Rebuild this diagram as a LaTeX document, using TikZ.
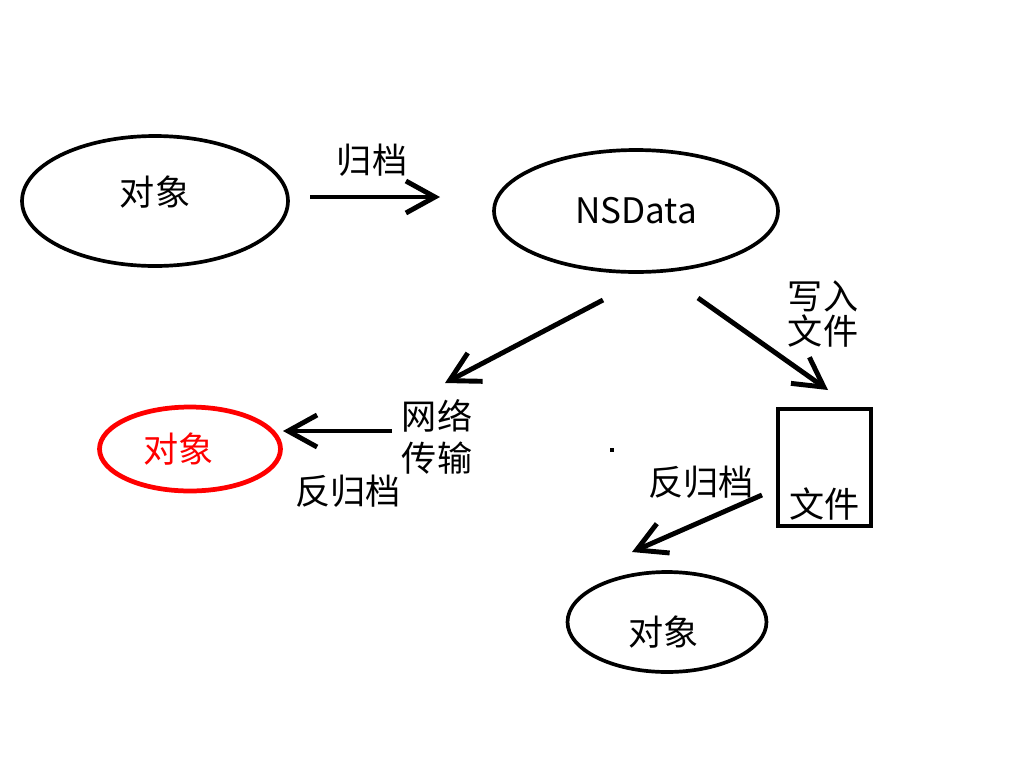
\documentclass[tikz,border=0pt]{standalone}
\usepackage{fontspec}
\setmainfont{Noto Sans CJK SC}
\usetikzlibrary{arrows.meta,positioning,calc,shapes.geometric}
\definecolor{ink}{HTML}{000000}
\definecolor{alert}{HTML}{FF0000}
\tikzset{blob/.style={ellipse,draw=ink,line width=2.1pt,inner sep=0pt,font=\fontsize{20}{22}\selectfont}, hot/.style={blob,draw=alert,text=alert,line width=2.7pt}, sheet/.style={draw=ink,line width=2.5pt,inner sep=0pt,minimum width=1.86cm,minimum height=2.34cm}, tag/.style={align=center,inner sep=0pt,font=\fontsize{20}{20}\selectfont}, flow/.style={-{Straight Barb[length=5.8mm,width=6.4mm]},line width=2.8pt,draw=ink}, inside/.style={font=\fontsize{20}{22}\selectfont}}

\begin{document}
\begin{tikzpicture}[x=0.02cm,y=-0.02cm]
\useasboundingbox[fill=white] (0,0) rectangle (1024,768);
\node[blob,minimum width=5.32cm,minimum height=2.6cm,label={[inside,yshift=5pt]center:对象}] (obj1) at (155,201) {};
\node[blob,minimum width=5.68cm,minimum height=2.44cm] (nsdata) at (636,211) {NSData};
\node[hot,minimum width=3.62cm,minimum height=1.68cm,label={[inside,text=alert,xshift=-6.5pt]center:对象}] (obj2) at (190,449) {};
\node[blob,minimum width=3.98cm,minimum height=2.0cm,label={[inside,xshift=-2pt,yshift=-5.5pt]center:对象}] (obj3) at (667,622) {};
\node[sheet,label={[anchor=south,inside,yshift=1pt]south:文件}] (file) at (824.5,467.5) {};
\node[tag] (gd) at (372,160) {归档};
\node[tag] (net) at (437,437) {网络\\[4pt]传输};
\node[tag] (fgd1) at (348,491) {反归档};
\node[tag] (write) at (823,314) {写入\\文件};
\node[tag] (fgd2) at (701,482) {反归档};
\draw[flow] ([shift={(155,-4)}]obj1.center)--([shift={(-196,-14)}]nsdata.center);
\draw[flow] ([shift={(-33,89)}]nsdata.center)--([shift={(8,-54)}]net.center);
\draw[flow] ([shift={(62,87)}]nsdata.center)--([shift={(3.5,-77.5)}]file.center);
\draw[flow] ([shift={(-45,-6)}]net.center)--([shift={(93,-18)}]obj2.center);
\draw[flow] ([shift={(-62.5,27.5)}]file.center)--([shift={(-35,-70)}]obj3.center);
\fill[ink] (610,448) rectangle (614,452);
\end{tikzpicture}
\end{document}
